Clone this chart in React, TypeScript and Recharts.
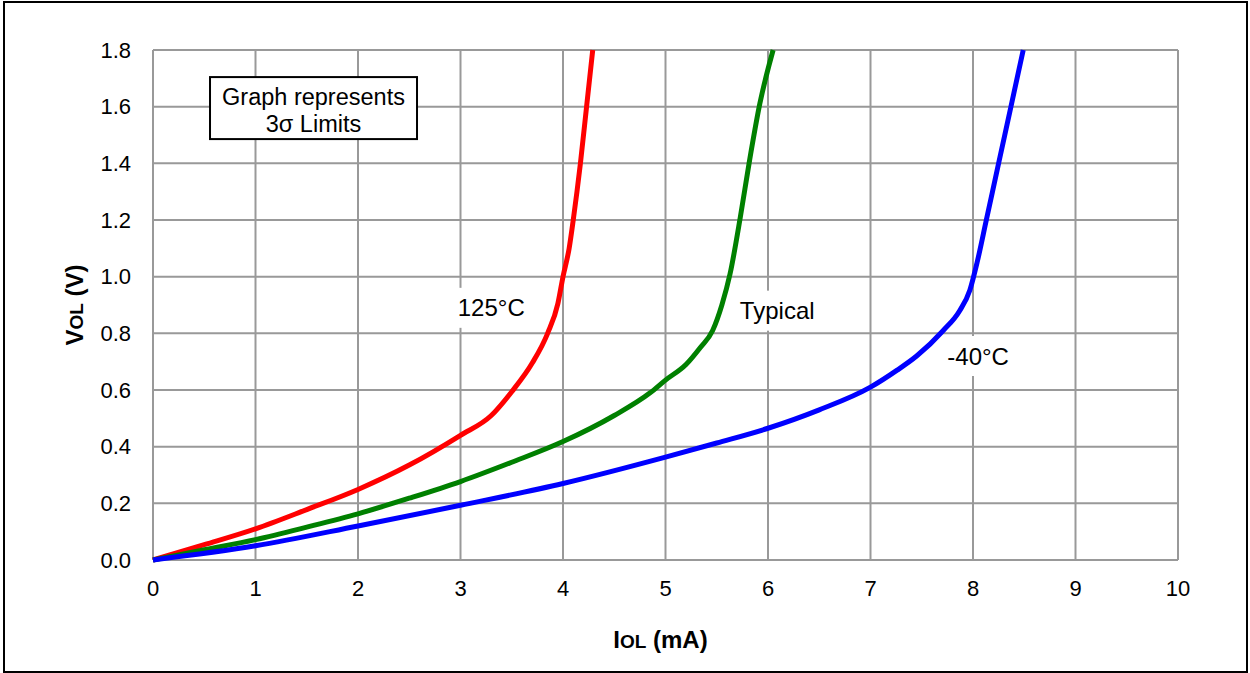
import { LineChart, Line, XAxis, YAxis, CartesianGrid, ReferenceDot, Label } from "recharts";

// ticks de los ejes
const ticksIol = [0, 1, 2, 3, 4, 5, 6, 7, 8, 9, 10];
const ticksVol = [0, 0.2, 0.4, 0.6, 0.8, 1.0, 1.2, 1.4, 1.6, 1.8];

// 125°C
const iol125 = [0, 0.5, 1, 1.5, 2, 2.5, 3, 3.3, 3.5, 3.7, 3.85, 3.95, 4.0, 4.06, 4.1, 4.17, 4.23, 4.29];
const vol125 = [0, 0.054, 0.11, 0.178, 0.249, 0.335, 0.44, 0.51, 0.594, 0.695, 0.8, 0.905, 1.0, 1.1, 1.2, 1.4, 1.6, 1.8];

// Typical
const iolTyp = [0, 0.5, 1, 1.5, 2, 2.5, 3, 3.5, 4, 4.5, 4.85, 5, 5.2, 5.34, 5.46, 5.55, 5.63, 5.73, 5.82, 5.92, 6.05];
const volTyp = [0, 0.036, 0.072, 0.116, 0.163, 0.218, 0.277, 0.345, 0.418, 0.51, 0.59, 0.635, 0.69, 0.75, 0.81, 0.9, 1.01, 1.21, 1.41, 1.61, 1.8];

// -40°C
const iolFrio = [0, 1, 2, 3, 4, 5, 5.5, 6, 6.5, 7, 7.26, 7.45, 7.71, 7.87, 7.97, 8.04, 8.13, 8.25, 8.37, 8.49];
const volFrio = [0, 0.05, 0.12, 0.193, 0.27, 0.363, 0.413, 0.465, 0.53, 0.61, 0.67, 0.72, 0.81, 0.88, 0.953, 1.05, 1.2, 1.4, 1.6, 1.8];

const etiquetas = [
    { texto: "125°C", i: 3.3, v: 0.89 },
    { texto: "Typical", i: 6.09, v: 0.88 },
    { texto: "-40°C", i: 8.05, v: 0.72 },
];

const nota = { lineas: ["Graph represents", "3σ Limits"], i: 1.566, v: 1.595 };

const armar = (xs: number[], ys: number[]) => xs.map((i, k) => ({ i, v: ys[k] }));

const series = [
    { nombre: "125°C", color: "#ff0000", data: armar(iol125, vol125) },
    { nombre: "Typical", color: "#008000", data: armar(iolTyp, volTyp) },
    { nombre: "-40°C", color: "#0000ff", data: armar(iolFrio, volFrio) },
];

const fuente = "'Liberation Sans', Arial, sans-serif";

function EtiquetaCurva({ cx, cy, texto }: { cx: number; cy: number; texto: string }) {
    const ancho = texto.length * 12.5 + 8;
    return (
        <g>
            <rect x={cx - ancho / 2} y={cy - 20} width={ancho} height={40} fill="#fff" />
            <text x={cx} y={cy} dy="0.36em" textAnchor="middle" fontSize={24} fontFamily={fuente} fill="#000">
                {texto}
            </text>
        </g>
    );
}

function Nota({ cx, cy }: { cx: number; cy: number }) {
    return (
        <g>
            <rect x={cx - 103.5} y={cy - 31} width={207} height={62} fill="#fff" stroke="#000" strokeWidth={2} />
            {nota.lineas.map((l, k) => (
                <text key={k} x={cx} y={cy - 11.5 + k * 27} dy="0.36em" textAnchor="middle" fontSize={23.5} fontFamily={fuente} fill="#000">
                    {l}
                </text>
            ))}
        </g>
    );
}

export default function App() {
    return (
        <div style={{ position: "absolute", left: 0, top: 0, width: 1250, height: 673, background: "#fff" }}>
            <div style={{ position: "absolute", left: 3, top: 1, width: 1241, height: 668, border: "2px solid #000" }} />
            <LineChart width={1250} height={673} margin={{ top: 50, right: 72, bottom: 73, left: 73 }}>
                <CartesianGrid stroke="#999" strokeWidth={2} />
                <XAxis
                    type="number"
                    dataKey="i"
                    domain={[0, 10]}
                    ticks={ticksIol}
                    height={40}
                    axisLine={false}
                    tickLine={false}
                    tickSize={0}
                    tickMargin={20}
                    tick={{ fill: "#000", fontSize: 22, fontFamily: fuente }}
                >
                    <Label
                        content={(p: any) => {
                            const vb = p.viewBox;
                            return (
                                <text x={vb.x + vb.width / 2 - 5} y={vb.y + 88} textAnchor="middle" fontWeight="bold" fontSize={24} fontFamily={fuente} fill="#000">
                                    I<tspan fontSize={19}>OL</tspan> (mA)
                                </text>
                            );
                        }}
                    />
                </XAxis>
                <YAxis
                    type="number"
                    dataKey="v"
                    domain={[0, 1.8]}
                    ticks={ticksVol}
                    width={80}
                    axisLine={false}
                    tickLine={false}
                    tickSize={0}
                    tickMargin={22}
                    tickFormatter={(v: number) => v.toFixed(1)}
                    tick={{ fill: "#000", fontSize: 22, fontFamily: fuente }}
                >
                    <Label
                        content={(p: any) => {
                            const vb = p.viewBox;
                            const x = vb.x + 10;
                            const y = vb.y + vb.height / 2;
                            return (
                                <text x={x} y={y} transform={`rotate(-90 ${x} ${y})`} textAnchor="middle" fontWeight="bold" fontSize={24} fontFamily={fuente} fill="#000">
                                    V<tspan fontSize={19}>OL</tspan> (V)
                                </text>
                            );
                        }}
                    />
                </YAxis>
                {series.map((s) => (
                    <Line
                        key={s.nombre}
                        data={s.data}
                        dataKey="v"
                        type="monotone"
                        stroke={s.color}
                        strokeWidth={5}
                        dot={false}
                        activeDot={false}
                        isAnimationActive={false}
                    />
                ))}
                {etiquetas.map((e) => (
                    <ReferenceDot
                        key={e.texto}
                        x={e.i}
                        y={e.v}
                        r={0}
                        ifOverflow="visible"
                        shape={(p: any) => <EtiquetaCurva cx={p.cx} cy={p.cy} texto={e.texto} />}
                    />
                ))}
                <ReferenceDot x={nota.i} y={nota.v} r={0} ifOverflow="visible" shape={(p: any) => <Nota cx={p.cx} cy={p.cy} />} />
            </LineChart>
        </div>
    );
}
